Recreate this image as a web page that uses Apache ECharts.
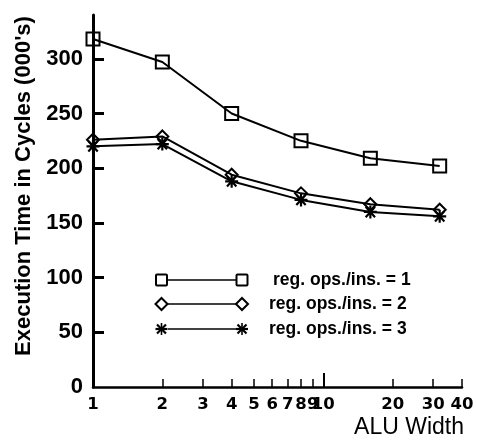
<!DOCTYPE html>
<html>
<head>
<meta charset="utf-8">
<script src="https://cdn.jsdelivr.net/npm/echarts@6/dist/echarts.min.js"></script>
<style>
  html, body { margin: 0; padding: 0; background: #fff; }
  #chart { width: 477px; height: 442px; }
</style>
</head>
<body>
<div id="chart"></div>
<script>
// ALU widths simulated (log-scaled axis)
const aluWidths = [1, 2, 4, 8, 16, 32];

// Execution time in thousands of cycles, one list per register-operand setting
const regOps1 = [318, 297, 250, 225, 209, 202];
const regOps2 = [226, 229, 194, 177, 167, 162];
const regOps3 = [220, 222, 188, 171, 160, 156];

const seriesNames = ['reg. ops./ins. = 1', 'reg. ops./ins. = 2', 'reg. ops./ins. = 3'];

// Tick labels
const xTickValues = [1, 2, 3, 4, 5, 6, 7, 8, 9, 10, 20, 30, 40];
const yTickValues = [0, 50, 100, 150, 200, 250, 300];

const xMaxValue = 40;
const yMaxValue = 340;

const log10 = v => Math.log10(v);

const SQUARE = 'path://M0,0L10,0L10,10L0,10Z';
const DIAMOND = 'path://M5,0L10,5L5,10L0,5Z';
const STAR = 'path://M0,5L10,5M1.4,1.4L8.6,8.6M8.6,1.4L1.4,8.6M5,0.5L5,9.5';

const symbols = [SQUARE, DIAMOND, STAR];
const symbolSizes = [13, 12, 13];
const symbolBorders = [2, 2, 2.2];
const allValues = [regOps1, regOps2, regOps3];

const chart = echarts.init(document.getElementById('chart'), null, { renderer: 'canvas' });

const series = allValues.map((vals, i) => ({
  name: seriesNames[i],
  type: 'line',
  xAxisIndex: 0,
  data: vals.map((v, k) => [log10(aluWidths[k]), v]),
  symbol: symbols[i],
  symbolSize: symbolSizes[i],
  showAllSymbol: true,
  itemStyle: { color: 'rgba(0,0,0,0)', borderColor: '#000', borderWidth: symbolBorders[i] },
  lineStyle: { color: '#000', width: 2 },
  emphasis: { disabled: true },
  animation: false,
  z: 3
}));

// Legend drawn as sample mark pairs joined by a line, followed by the series name
const legendRows = [280, 304, 329];
const legendTextX = [273, 269, 269];
const legendGraphics = [];
legendRows.forEach((y, i) => {
  const s = 11;
  const makeMark = (cx) => {
    if (i === 0) {
      return { type: 'rect', shape: { x: cx - s / 2, y: y - s / 2, width: s, height: s, r: 1 },
               style: { fill: 'none', stroke: '#000', lineWidth: 2 } };
    }
    if (i === 1) {
      return { type: 'polygon', shape: { points: [[cx, y - 6], [cx + 6, y], [cx, y + 6], [cx - 6, y]] },
               style: { fill: 'none', stroke: '#000', lineWidth: 2 } };
    }
    const r = 6, d = 4.5;
    return { type: 'group', children: [
      { type: 'line', shape: { x1: cx - r, y1: y, x2: cx + r, y2: y }, style: { stroke: '#000', lineWidth: 2.2 } },
      { type: 'line', shape: { x1: cx - d, y1: y - d, x2: cx + d, y2: y + d }, style: { stroke: '#000', lineWidth: 2.2 } },
      { type: 'line', shape: { x1: cx + d, y1: y - d, x2: cx - d, y2: y + d }, style: { stroke: '#000', lineWidth: 2.2 } },
      { type: 'line', shape: { x1: cx, y1: y - r, x2: cx, y2: y + r }, style: { stroke: '#000', lineWidth: 1.6 } }
    ] };
  };
  legendGraphics.push(makeMark(161.5));
  legendGraphics.push({ type: 'line', shape: { x1: 168, y1: y, x2: 236, y2: y }, style: { stroke: '#000', lineWidth: 1.6 } });
  legendGraphics.push(makeMark(242));
  legendGraphics.push({
    type: 'text', x: legendTextX[i], y: y,
    style: { text: seriesNames[i], fill: '#000', font: 'bold 17.5px "Liberation Sans", Arial, sans-serif',
             textAlign: 'left', textVerticalAlign: 'middle' }
  });
});

const option = {
  backgroundColor: '#fff',
  animation: false,
  grid: { left: 93, right: 15, top: 15, bottom: 55, containLabel: false },
  xAxis: [
    {
      type: 'value',
      min: 0,
      max: log10(xMaxValue),
      axisLine: { show: true, lineStyle: { color: '#000', width: 2.5 } },
      axisTick: {
        show: true, inside: true, length: 8,
        customValues: xTickValues.map(log10),
        lineStyle: { color: '#000', width: 1.5 }
      },
      axisLabel: {
        show: true, margin: 9,
        customValues: xTickValues.map(log10),
        formatter: v => String(Math.round(Math.pow(10, v))),
        color: '#000',
        fontFamily: '"DejaVu Sans", Verdana, sans-serif',
        fontWeight: 'bold',
        fontSize: 16.5
      },
      splitLine: { show: false }
    },
    {
      // taller tick at the decade mark
      type: 'value',
      position: 'bottom',
      min: 0,
      max: log10(xMaxValue),
      axisLine: { show: false },
      axisTick: {
        show: true, inside: true, length: 14,
        customValues: [log10(10)],
        lineStyle: { color: '#000', width: 2 }
      },
      axisLabel: { show: false },
      splitLine: { show: false }
    }
  ],
  yAxis: {
    type: 'value',
    min: 0,
    max: yMaxValue,
    axisLine: { show: true, lineStyle: { color: '#000', width: 3 } },
    axisTick: {
      show: true, inside: true, length: 11,
      customValues: yTickValues.slice(1),
      lineStyle: { color: '#000', width: 3 }
    },
    axisLabel: {
      show: true, margin: 10,
      customValues: yTickValues,
      color: '#000',
      fontFamily: 'Liberation Sans',
      fontWeight: 'bold',
      fontSize: 22
    },
    splitLine: { show: false }
  },
  graphic: [
    {
      type: 'text', x: 24, y: 186, rotation: Math.PI / 2,
      style: { text: "Execution Time in Cycles (000's)", fill: '#000',
               font: 'bold 22px "Liberation Sans", Arial, sans-serif',
               textAlign: 'center', textVerticalAlign: 'middle' }
    },
    {
      type: 'text', x: 464, y: 428,
      style: { text: 'ALU Width', fill: '#000',
               font: '23px "Liberation Sans", Arial, sans-serif',
               textAlign: 'right', textVerticalAlign: 'middle' }
    }
  ].concat(legendGraphics),
  series: series
};

chart.setOption(option);
</script>
</body>
</html>
